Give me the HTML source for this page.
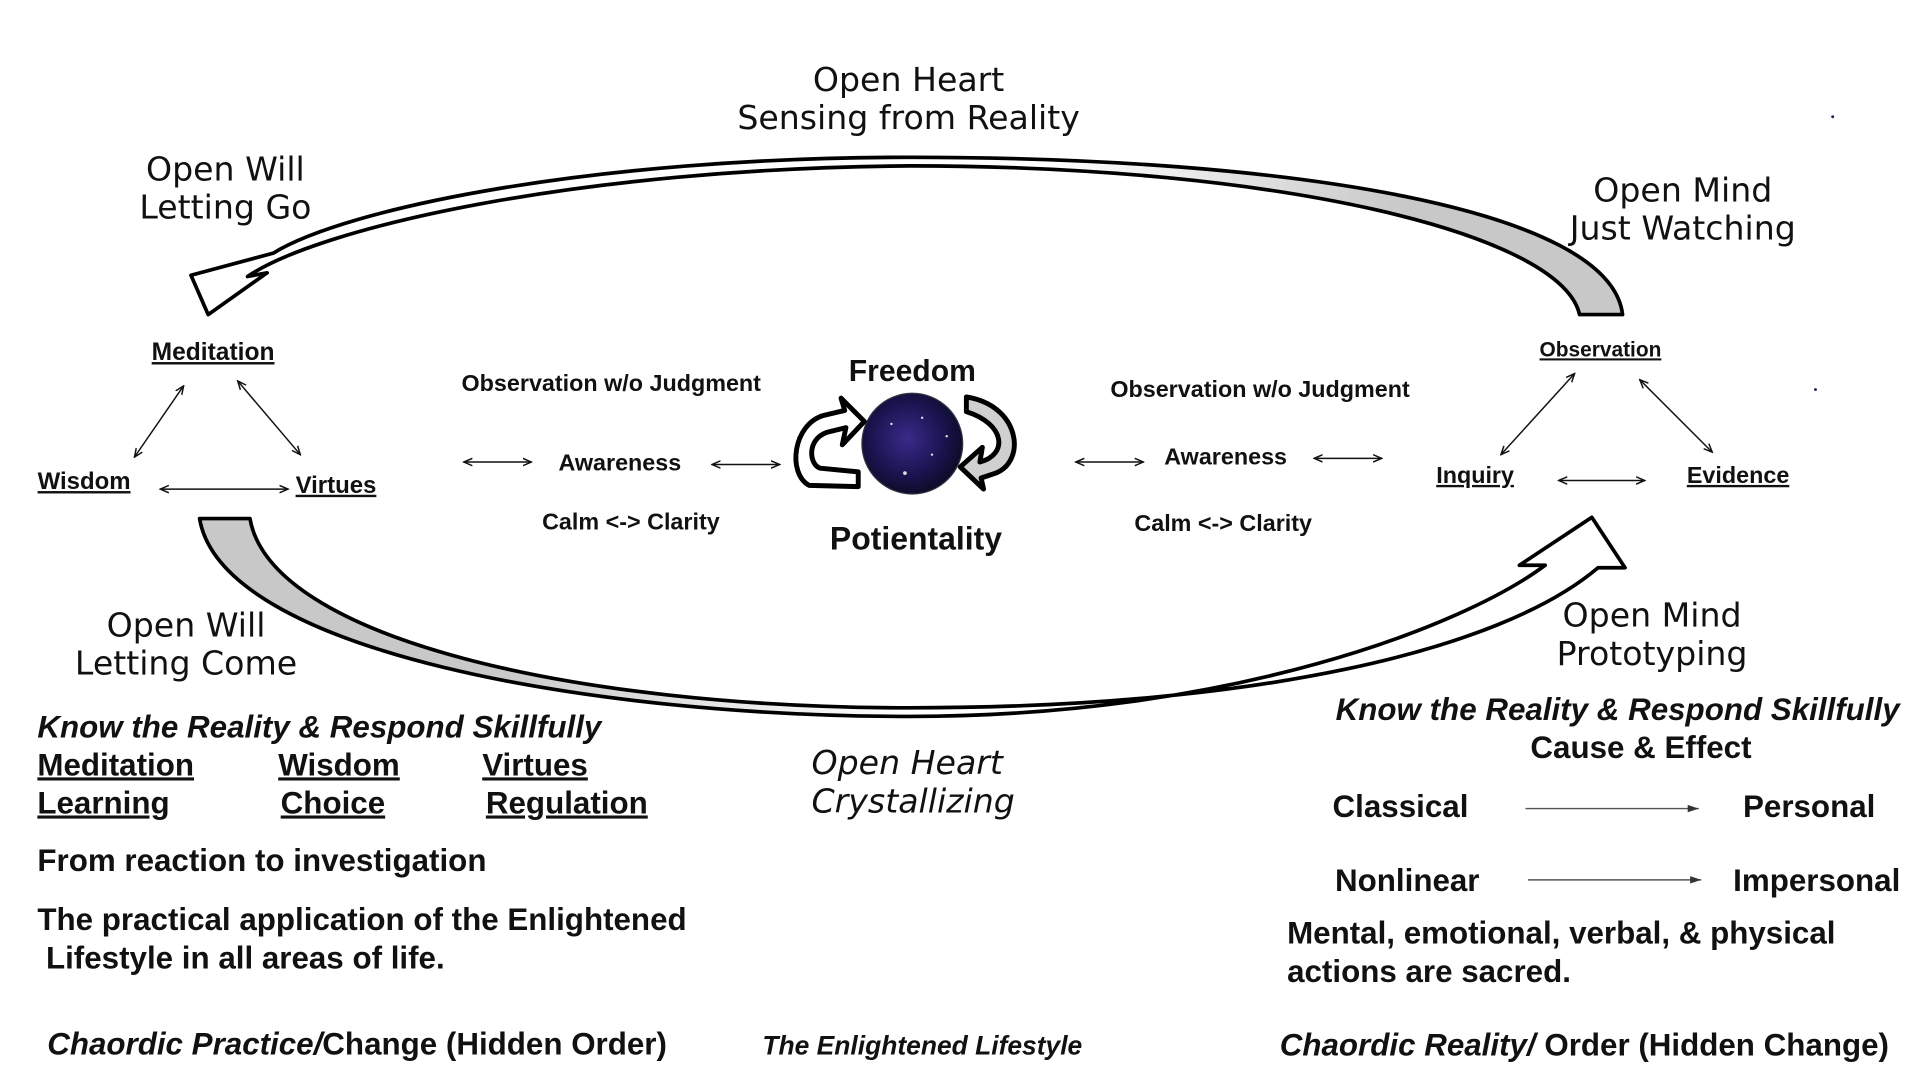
<!DOCTYPE html>
<html><head><meta charset="utf-8"><style>
html,body{margin:0;padding:0;background:#fff;}
svg{display:block}
text{font-family:"Liberation Sans","DejaVu Sans",sans-serif;fill:#111}
.h{font-size:27px;font-family:"DejaVu Sans","Liberation Sans",sans-serif;font-weight:normal}
.s{font-size:19px;font-weight:bold}
.b{font-size:25.5px;font-weight:bold}
.u{text-decoration:underline}
</style></head><body>
<svg width="1918" height="1074" viewBox="0 0 1560 874" xmlns="http://www.w3.org/2000/svg">
<defs>
<linearGradient id="g1" x1="0" x2="1" y1="0" y2="0"><stop offset="0.6" stop-color="#fff"/><stop offset="0.85" stop-color="#c8c8c8"/></linearGradient>
<linearGradient id="g2" x1="0" x2="1" y1="0" y2="0"><stop offset="0.2" stop-color="#c8c8c8"/><stop offset="0.5" stop-color="#fff"/></linearGradient>
<radialGradient id="sp" cx="0.45" cy="0.45" r="0.6"><stop offset="0" stop-color="#3a2a8a"/><stop offset="0.6" stop-color="#1a1450"/><stop offset="1" stop-color="#0a0a20"/></radialGradient>
<marker id="ah" markerWidth="8" markerHeight="8" refX="7" refY="4" orient="auto-start-reverse" markerUnits="userSpaceOnUse"><path d="M0,1 L7,4 L0,7" fill="none" stroke="#111" stroke-width="1.2"/></marker>
<marker id="af" markerWidth="10" markerHeight="8" refX="9" refY="4" orient="auto" markerUnits="userSpaceOnUse"><path d="M0,1 L9,4 L0,7 z" fill="#333"/></marker>
</defs>

<path d="M1320,256 C1310,170 1050,128 740,128 C480,128 280,170 222,206 L155,224 L169,256 L217,222 L201,225 C260,185 470,137 740,135 C1040,135 1270,190 1285,256 Z" fill="url(#g1)" stroke="#000" stroke-width="3" stroke-linejoin="round"/>
<path d="M162,422 C180,530 480,583 740,583 C1000,583 1190,510 1257,460 L1236,460 L1295,421 L1322,462 L1300,462 C1220,530 1020,576 740,576 C470,576 220,520 203,422 Z" fill="url(#g2)" stroke="#000" stroke-width="3" stroke-linejoin="round"/>

<circle cx="742" cy="361" r="41" fill="url(#sp)" stroke="#334" stroke-width="1"/>
<g fill="#ddd"><circle cx="725" cy="345" r="1"/><circle cx="758" cy="370" r="1"/><circle cx="736" cy="385" r="1.5"/><circle cx="750" cy="340" r="1"/><circle cx="770" cy="355" r="1"/></g>
<path d="M658,395 C640,385 645,345 670,338 L687,334 L684,324 L703,343 L685,362 L688,348 L672,352 C656,358 658,378 667,381 L698,384 L698,396 Z" fill="#fff" stroke="#000" stroke-width="4" stroke-linejoin="round"/>
<path d="M786,323 C830,330 835,375 810,385 L798,389 L800,398 L781,380 L799,364 L797,376 C820,370 818,345 786,335 Z" fill="#d0d0d0" stroke="#000" stroke-width="4" stroke-linejoin="round"/>
<text x="742" y="310" class="b" text-anchor="middle" style="font-size:24.5px">Freedom</text>
<text x="745" y="447" class="b" text-anchor="middle" style="font-size:26px">Potientality</text>

<text x="739" y="74" class="h" text-anchor="middle">Open Heart</text>
<text x="739" y="105" class="h" text-anchor="middle">Sensing from Reality</text>
<text x="183" y="147" class="h" text-anchor="middle">Open Will</text>
<text x="183" y="178" class="h" text-anchor="middle">Letting Go</text>
<text x="1369" y="164" class="h" text-anchor="middle">Open Mind</text>
<text x="1369" y="195" class="h" text-anchor="middle">Just Watching</text>
<text x="151" y="518" class="h" text-anchor="middle">Open Will</text>
<text x="151" y="549" class="h" text-anchor="middle">Letting Come</text>
<text x="1344" y="510" class="h" text-anchor="middle">Open Mind</text>
<text x="1344" y="541" class="h" text-anchor="middle">Prototyping</text>
<text x="660" y="630" class="h" font-style="italic">Open Heart</text>
<text x="660" y="661" class="h" font-style="italic">Crystallizing</text>

<text x="173" y="293" class="s u" text-anchor="middle" style="font-size:20px">Meditation</text>
<text x="68" y="398" class="s u" text-anchor="middle" style="font-size:19.5px">Wisdom</text>
<text x="273" y="401" class="s u" text-anchor="middle" style="font-size:19.5px">Virtues</text>
<g stroke="#111" stroke-width="1.2" fill="none">
<line x1="149" y1="314" x2="109" y2="372" marker-start="url(#ah)" marker-end="url(#ah)"/>
<line x1="193" y1="310" x2="244" y2="370" marker-start="url(#ah)" marker-end="url(#ah)"/>
<line x1="130" y1="398" x2="234" y2="398" marker-start="url(#ah)" marker-end="url(#ah)"/>
<line x1="1281" y1="304" x2="1221" y2="370" marker-start="url(#ah)" marker-end="url(#ah)"/>
<line x1="1334" y1="309" x2="1393" y2="368" marker-start="url(#ah)" marker-end="url(#ah)"/>
<line x1="1268" y1="391" x2="1338" y2="391" marker-start="url(#ah)" marker-end="url(#ah)"/>
<line x1="377" y1="376" x2="432" y2="376" marker-start="url(#ah)" marker-end="url(#ah)"/>
<line x1="579" y1="378" x2="634" y2="378" marker-start="url(#ah)" marker-end="url(#ah)"/>
<line x1="875" y1="376" x2="930" y2="376" marker-start="url(#ah)" marker-end="url(#ah)"/>
<line x1="1069" y1="373" x2="1124" y2="373" marker-start="url(#ah)" marker-end="url(#ah)"/>
</g>
<text x="1302" y="290" class="s u" text-anchor="middle" style="font-size:17px">Observation</text>
<text x="1200" y="393" class="s u" text-anchor="middle">Inquiry</text>
<text x="1414" y="393" class="s u" text-anchor="middle">Evidence</text>

<text x="497" y="318" class="s" text-anchor="middle">Observation w/o Judgment</text>
<text x="504" y="383" class="s" text-anchor="middle">Awareness</text>
<text x="513" y="431" class="s" text-anchor="middle">Calm &lt;-&gt; Clarity</text>
<text x="1025" y="323" class="s" text-anchor="middle">Observation w/o Judgment</text>
<text x="997" y="378" class="s" text-anchor="middle">Awareness</text>
<text x="995" y="432" class="s" text-anchor="middle">Calm &lt;-&gt; Clarity</text>

<text x="30" y="600" class="b" font-style="italic">Know the Reality &amp; Respond Skillfully</text>
<text x="30" y="631" class="b u">Meditation</text>
<text x="226" y="631" class="b u">Wisdom</text>
<text x="392" y="631" class="b u">Virtues</text>
<text x="30" y="662" class="b u">Learning</text>
<text x="228" y="662" class="b u">Choice</text>
<text x="395" y="662" class="b u">Regulation</text>
<text x="30" y="709" class="b">From reaction to investigation</text>
<text x="30" y="757" class="b">The practical application of the Enlightened</text>
<text x="37" y="788" class="b">Lifestyle in all areas of life.</text>
<text x="38" y="858" class="b"><tspan font-style="italic">Chaordic Practice/</tspan>Change (Hidden Order)</text>
<text x="620" y="858" class="s" font-style="italic" style="font-size:21.5px">The Enlightened Lifestyle</text>

<text x="1316" y="586" class="b" font-style="italic" text-anchor="middle">Know the Reality &amp; Respond Skillfully</text>
<text x="1335" y="617" class="b" text-anchor="middle">Cause &amp; Effect</text>
<text x="1084" y="665" class="b">Classical</text>
<text x="1418" y="665" class="b">Personal</text>
<text x="1086" y="725" class="b">Nonlinear</text>
<text x="1410" y="725" class="b">Impersonal</text>
<line x1="1241" y1="658" x2="1382" y2="658" stroke="#555" stroke-width="1.2" marker-end="url(#af)"/>
<line x1="1243" y1="716" x2="1384" y2="716" stroke="#555" stroke-width="1.2" marker-end="url(#af)"/>
<text x="1047" y="768" class="b">Mental, emotional, verbal, &amp; physical</text>
<text x="1047" y="799" class="b">actions are sacred.</text>
<text x="1041" y="859" class="b"><tspan font-style="italic">Chaordic Reality/</tspan> Order (Hidden Change)</text>
<circle cx="1491" cy="95" r="1.2" fill="#226"/><circle cx="1477" cy="317" r="1.2" fill="#226"/>
</svg>
</body></html>
